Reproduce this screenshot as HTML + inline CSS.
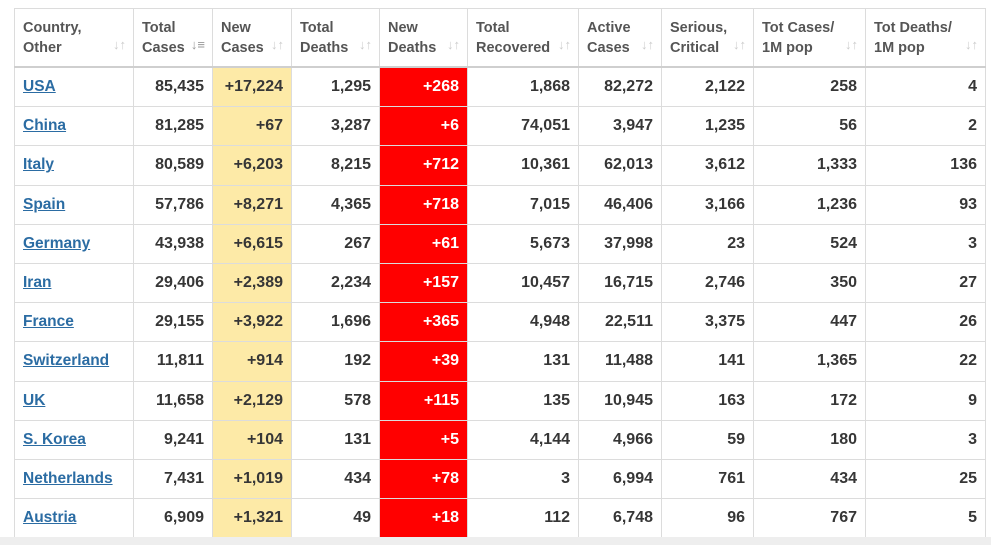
<!DOCTYPE html>
<html><head><meta charset="utf-8"><style>
html,body{margin:0;padding:0;width:991px;height:545px;background:#fff;overflow:hidden;font-family:"Liberation Sans",sans-serif;}
.bot{position:absolute;left:0;top:537px;width:991px;height:8px;background:#eeeeee;}
table{position:absolute;left:14px;top:8px;border-collapse:collapse;table-layout:fixed;}
td,th{border:1px solid #dcdcdc;padding:0 8px;font-size:16px;font-weight:bold;color:#363636;text-align:right;white-space:nowrap;overflow:hidden;}
th{height:57px;text-align:left;color:#555;font-size:14.5px;line-height:20px;vertical-align:middle;position:relative;border-bottom:2px solid #cfcfcf;}
th span{position:absolute;right:7px;bottom:11px;color:#ccc;font-size:13px;}
td{height:38.2px;line-height:18px;padding-top:0;padding-bottom:0;}
td:first-child{text-align:left;font-size:15.5px;}
td a{color:#2b6ca3;text-decoration:underline;}
.y{background:#fdeaa7;}
.r{background:#ff0000;color:#fff;}
</style></head><body>
<table>
<colgroup><col style="width:119px"><col style="width:79px"><col style="width:79px"><col style="width:88px"><col style="width:88px"><col style="width:111px"><col style="width:83px"><col style="width:92px"><col style="width:112px"><col style="width:120px"></colgroup>
<tr><th>Country,<br>Other<span>↓↑</span></th><th>Total<br>Cases<span style="color:#999">↓≡</span></th><th>New<br>Cases<span>↓↑</span></th><th>Total<br>Deaths<span>↓↑</span></th><th>New<br>Deaths<span>↓↑</span></th><th>Total<br>Recovered<span>↓↑</span></th><th>Active<br>Cases<span>↓↑</span></th><th>Serious,<br>Critical<span>↓↑</span></th><th>Tot Cases/<br>1M pop<span>↓↑</span></th><th>Tot Deaths/<br>1M pop<span>↓↑</span></th></tr>
<tr><td><a>USA</a></td><td>85,435</td><td class="y">+17,224</td><td>1,295</td><td class="r">+268</td><td>1,868</td><td>82,272</td><td>2,122</td><td>258</td><td>4</td></tr>
<tr><td><a>China</a></td><td>81,285</td><td class="y">+67</td><td>3,287</td><td class="r">+6</td><td>74,051</td><td>3,947</td><td>1,235</td><td>56</td><td>2</td></tr>
<tr><td><a>Italy</a></td><td>80,589</td><td class="y">+6,203</td><td>8,215</td><td class="r">+712</td><td>10,361</td><td>62,013</td><td>3,612</td><td>1,333</td><td>136</td></tr>
<tr><td><a>Spain</a></td><td>57,786</td><td class="y">+8,271</td><td>4,365</td><td class="r">+718</td><td>7,015</td><td>46,406</td><td>3,166</td><td>1,236</td><td>93</td></tr>
<tr><td><a>Germany</a></td><td>43,938</td><td class="y">+6,615</td><td>267</td><td class="r">+61</td><td>5,673</td><td>37,998</td><td>23</td><td>524</td><td>3</td></tr>
<tr><td><a>Iran</a></td><td>29,406</td><td class="y">+2,389</td><td>2,234</td><td class="r">+157</td><td>10,457</td><td>16,715</td><td>2,746</td><td>350</td><td>27</td></tr>
<tr><td><a>France</a></td><td>29,155</td><td class="y">+3,922</td><td>1,696</td><td class="r">+365</td><td>4,948</td><td>22,511</td><td>3,375</td><td>447</td><td>26</td></tr>
<tr><td><a>Switzerland</a></td><td>11,811</td><td class="y">+914</td><td>192</td><td class="r">+39</td><td>131</td><td>11,488</td><td>141</td><td>1,365</td><td>22</td></tr>
<tr><td><a>UK</a></td><td>11,658</td><td class="y">+2,129</td><td>578</td><td class="r">+115</td><td>135</td><td>10,945</td><td>163</td><td>172</td><td>9</td></tr>
<tr><td><a>S. Korea</a></td><td>9,241</td><td class="y">+104</td><td>131</td><td class="r">+5</td><td>4,144</td><td>4,966</td><td>59</td><td>180</td><td>3</td></tr>
<tr><td><a>Netherlands</a></td><td>7,431</td><td class="y">+1,019</td><td>434</td><td class="r">+78</td><td>3</td><td>6,994</td><td>761</td><td>434</td><td>25</td></tr>
<tr><td><a>Austria</a></td><td>6,909</td><td class="y">+1,321</td><td>49</td><td class="r">+18</td><td>112</td><td>6,748</td><td>96</td><td>767</td><td>5</td></tr>
</table>
<div class="bot"></div>
</body></html>
